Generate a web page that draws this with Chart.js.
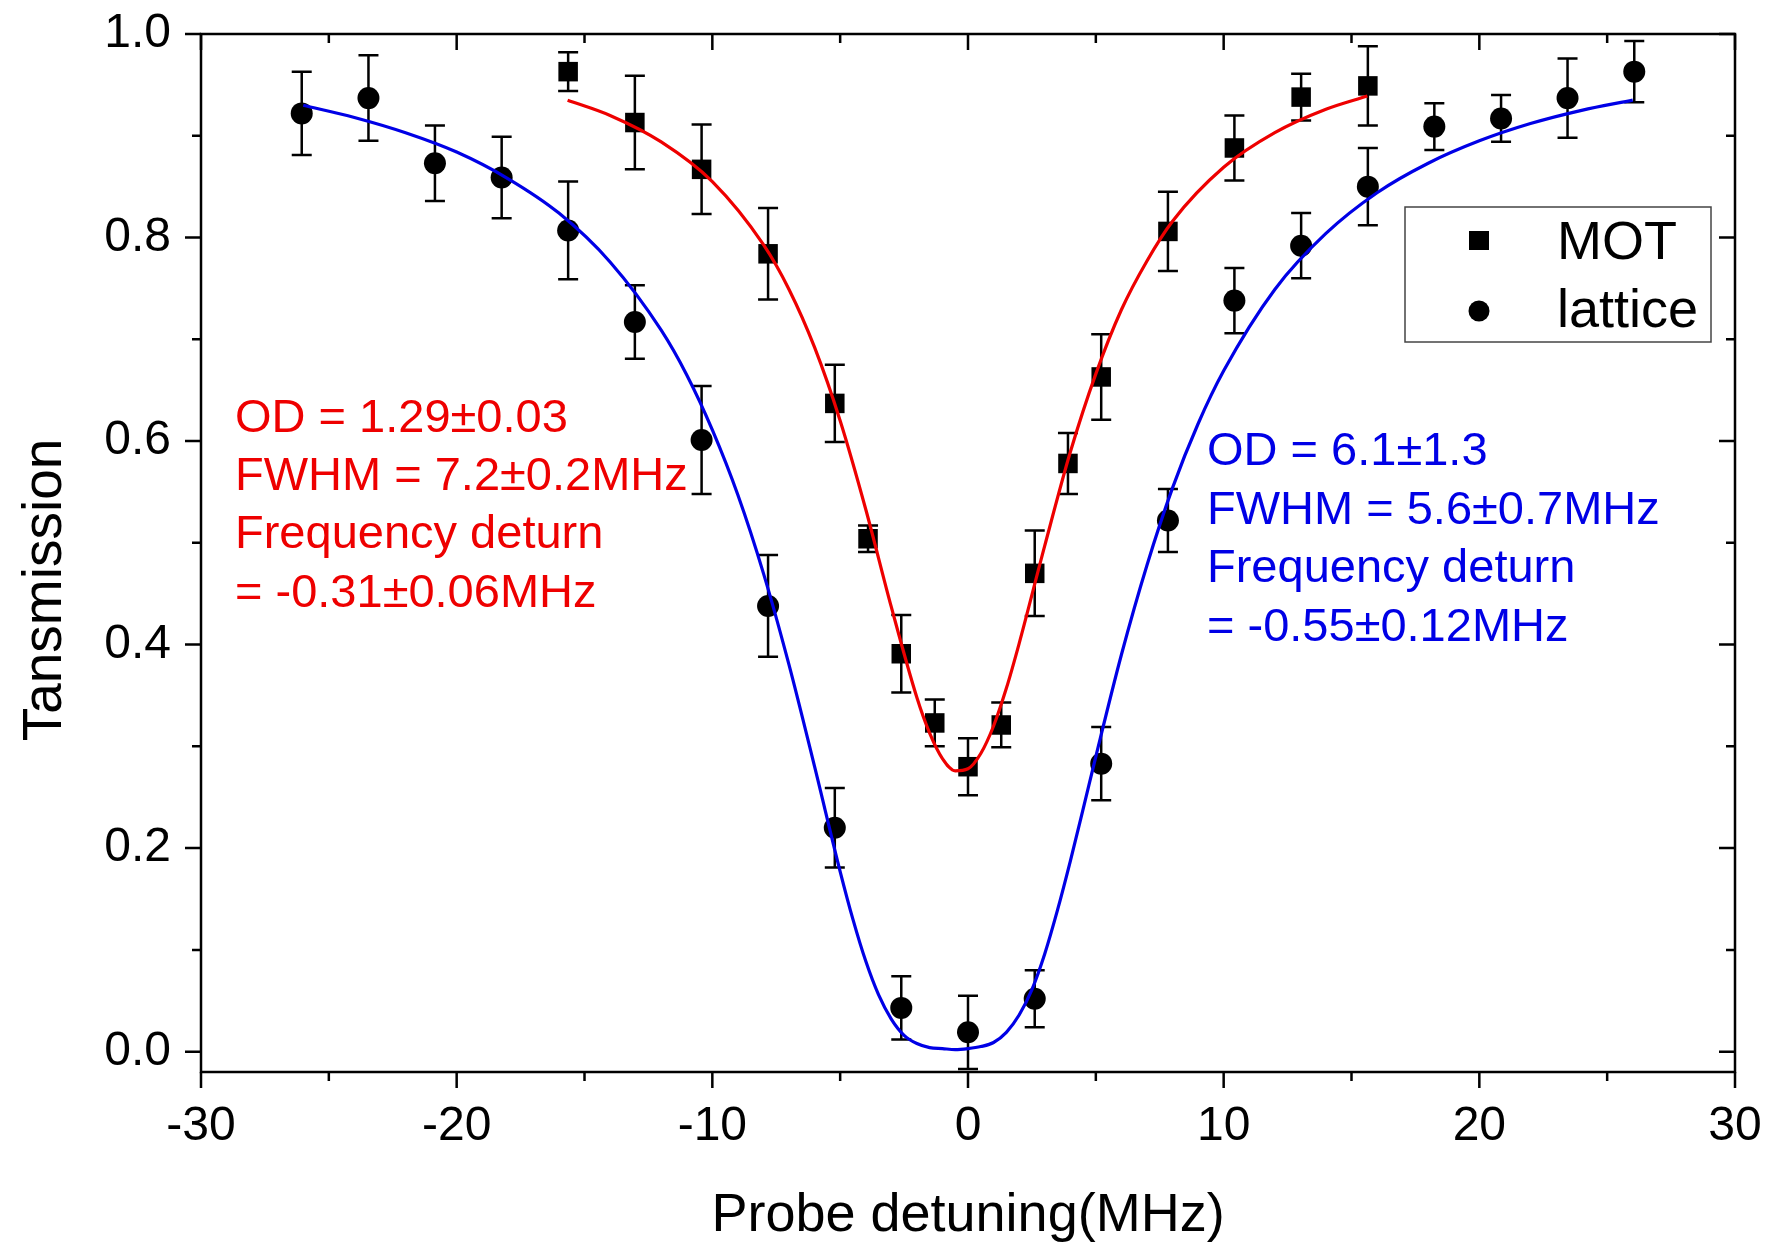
<!DOCTYPE html>
<html>
<head>
<meta charset="utf-8">
<script src="https://cdn.jsdelivr.net/npm/chart.js@4.4.1/dist/chart.umd.min.js"></script>
<style>
html,body{margin:0;padding:0;background:#fff;}
#wrap{width:1773px;height:1247px;position:relative;}
</style>
</head>
<body>
<div id="wrap"><canvas id="c" width="1773" height="1247"></canvas></div>
<script>
// ---- tick values ----
const xTickValues = [-30, -20, -10, 0, 10, 20, 30];
const xMinorTicks = [-25, -15, -5, 5, 15, 25];
const yTickValues = [0, 0.2, 0.4, 0.6, 0.8, 1.0];
const yMinorTicks = [0.1, 0.3, 0.5, 0.7, 0.9];

// ---- MOT data (squares) ----
const motX   = [-15.64, -13.03, -10.42, -7.82, -5.21, -3.91, -2.61, -1.30, 0, 1.30, 2.61, 3.91, 5.21, 7.82, 10.42, 13.03, 15.64];
const motT   = [0.963, 0.913, 0.867, 0.784, 0.637, 0.504, 0.391, 0.323, 0.280, 0.321, 0.470, 0.578, 0.663, 0.806, 0.888, 0.938, 0.949];
const motErr = [0.019, 0.046, 0.044, 0.045, 0.038, 0.013, 0.038, 0.023, 0.028, 0.022, 0.042, 0.030, 0.042, 0.039, 0.032, 0.023, 0.039];

// ---- lattice data (circles) ----
const latticeX   = [-26.06, -23.45, -20.85, -18.24, -15.64, -13.03, -10.42, -7.82, -5.21, -2.61, 0, 2.61, 5.21, 7.82, 10.42, 13.03, 15.64, 18.24, 20.85, 23.45, 26.06];
const latticeT   = [0.922, 0.937, 0.873, 0.859, 0.807, 0.717, 0.601, 0.438, 0.220, 0.043, 0.019, 0.052, 0.283, 0.522, 0.738, 0.792, 0.850, 0.909, 0.917, 0.937, 0.963];
const latticeErr = [0.041, 0.042, 0.037, 0.040, 0.048, 0.036, 0.053, 0.050, 0.039, 0.031, 0.036, 0.028, 0.036, 0.031, 0.032, 0.032, 0.038, 0.023, 0.023, 0.039, 0.030];

// ---- fit curves ----
const motFitX = [-15.66, -14, -12, -10, -8, -7, -6, -5, -4, -3, -2, -1.5, -1, -0.5, 0, 0.5, 1, 1.5, 2, 3, 4, 5, 6, 7, 8, 10, 12, 14, 15.62];
const motFitT = [0.935, 0.920, 0.894, 0.855, 0.793, 0.749, 0.692, 0.620, 0.533, 0.437, 0.348, 0.313, 0.288, 0.276, 0.278, 0.293, 0.320, 0.357, 0.401, 0.497, 0.589, 0.666, 0.729, 0.777, 0.816, 0.869, 0.903, 0.926, 0.939];

const latFitX = [-26, -24, -22, -20, -18, -16, -14, -12, -11, -10, -9, -8, -7, -6, -5, -4.5, -4, -3.5, -3, -2.5, -2, -1.5, -1, -0.5, 0, 0.5, 1, 1.5, 2, 2.5, 3, 3.5, 4, 4.5, 5, 6, 7, 8, 9, 10, 12, 14, 16, 18, 20, 22, 24, 26];
const latFitT = [0.930, 0.918, 0.903, 0.884, 0.858, 0.824, 0.776, 0.709, 0.665, 0.611, 0.547, 0.470, 0.380, 0.280, 0.177, 0.130, 0.089, 0.056, 0.032, 0.016, 0.008, 0.004, 0.003, 0.002, 0.003, 0.005, 0.009, 0.019, 0.036, 0.061, 0.096, 0.139, 0.187, 0.238, 0.290, 0.390, 0.478, 0.554, 0.617, 0.669, 0.749, 0.804, 0.844, 0.873, 0.895, 0.912, 0.925, 0.935];

const toPts = (xs, ys) => xs.map((x, i) => ({x: x, y: ys[i]}));

const FONT = "'Liberation Sans', Arial, sans-serif";
const RED = '#ee0000';
const BLUE = '#0000e6';

const errorBars = {
  id: 'errorBars',
  beforeDatasetsDraw(chart) {
    const {ctx, scales: {x, y}} = chart;
    ctx.save();
    ctx.strokeStyle = '#000';
    ctx.lineWidth = 2.5;
    const cap = 10;
    const draw = (xs, ys, es) => {
      xs.forEach((xv, i) => {
        const px = x.getPixelForValue(xv);
        const top = y.getPixelForValue(ys[i] + es[i]);
        const bot = y.getPixelForValue(ys[i] - es[i]);
        ctx.beginPath();
        ctx.moveTo(px, top); ctx.lineTo(px, bot);
        ctx.moveTo(px - cap, top); ctx.lineTo(px + cap, top);
        ctx.moveTo(px - cap, bot); ctx.lineTo(px + cap, bot);
        ctx.stroke();
      });
    };
    draw(motX, motT, motErr);
    draw(latticeX, latticeT, latticeErr);
    ctx.restore();
  }
};

const frameAndText = {
  id: 'frameAndText',
  afterDraw(chart) {
    const {ctx, chartArea: a, scales: {x, y}} = chart;
    ctx.save();
    // frame
    ctx.strokeStyle = '#000';
    ctx.lineWidth = 2.5;
    ctx.strokeRect(a.left, a.top, a.right - a.left, a.bottom - a.top);
    // ticks
    const MAJ = 16, MIN = 9;
    ctx.beginPath();
    xTickValues.forEach(v => {
      const p = x.getPixelForValue(v);
      ctx.moveTo(p, a.bottom); ctx.lineTo(p, a.bottom + MAJ);
      ctx.moveTo(p, a.top); ctx.lineTo(p, a.top + MAJ);
    });
    xMinorTicks.forEach(v => {
      const p = x.getPixelForValue(v);
      ctx.moveTo(p, a.bottom); ctx.lineTo(p, a.bottom + MIN);
      ctx.moveTo(p, a.top); ctx.lineTo(p, a.top + MIN);
    });
    yTickValues.forEach(v => {
      const p = y.getPixelForValue(v);
      ctx.moveTo(a.left, p); ctx.lineTo(a.left - MAJ, p);
      ctx.moveTo(a.right, p); ctx.lineTo(a.right - MAJ, p);
    });
    yMinorTicks.forEach(v => {
      const p = y.getPixelForValue(v);
      ctx.moveTo(a.left, p); ctx.lineTo(a.left - MIN, p);
      ctx.moveTo(a.right, p); ctx.lineTo(a.right - MIN, p);
    });
    ctx.stroke();

    // y axis title
    ctx.save();
    ctx.translate(46, 590);
    ctx.rotate(-Math.PI / 2);
    ctx.font = '55px ' + FONT;
    ctx.fillStyle = '#000';
    ctx.textAlign = 'center';
    ctx.textBaseline = 'middle';
    ctx.fillText('Tansmission', 0, 0);
    ctx.restore();

    // legend
    ctx.lineWidth = 1.5;
    ctx.strokeStyle = '#444';
    ctx.strokeRect(1405, 207, 306, 135);
    ctx.fillStyle = '#000';
    ctx.fillRect(1469, 231, 20, 19);
    ctx.beginPath();
    ctx.arc(1479, 311, 10.5, 0, Math.PI * 2);
    ctx.fill();
    ctx.font = '54px ' + FONT;
    ctx.textAlign = 'left';
    ctx.textBaseline = 'alphabetic';
    ctx.fillText('MOT', 1557, 259);
    ctx.fillText('lattice', 1557, 327);

    // annotations
    ctx.font = '47px ' + FONT;
    ctx.fillStyle = RED;
    const redLines = ['OD = 1.29\u00B10.03', 'FWHM = 7.2\u00B10.2MHz', 'Frequency deturn', '= -0.31\u00B10.06MHz'];
    const redBase = [432, 490, 548, 607];
    redLines.forEach((t, i) => ctx.fillText(t, 235, redBase[i]));
    ctx.fillStyle = BLUE;
    const blueLines = ['OD = 6.1\u00B11.3', 'FWHM = 5.6\u00B10.7MHz', 'Frequency deturn', '= -0.55\u00B10.12MHz'];
    const blueBase = [465, 524, 582, 641];
    blueLines.forEach((t, i) => ctx.fillText(t, 1207, blueBase[i]));
    ctx.restore();
  }
};

new Chart(document.getElementById('c'), {
  type: 'scatter',
  data: {
    datasets: [
      {
        label: 'MOT fit', data: toPts(motFitX, motFitT), showLine: true,
        borderColor: RED, borderWidth: 3.2, pointRadius: 0, cubicInterpolationMode: 'monotone', order: 0
      },
      {
        label: 'lattice fit', data: toPts(latFitX, latFitT), showLine: true,
        borderColor: BLUE, borderWidth: 3.2, pointRadius: 0, cubicInterpolationMode: 'monotone', order: 0
      },
      {
        label: 'MOT', data: toPts(motX, motT), pointStyle: 'rect', pointRadius: 13.8,
        backgroundColor: '#000', borderColor: '#000', borderWidth: 0, order: 1
      },
      {
        label: 'lattice', data: toPts(latticeX, latticeT), pointStyle: 'circle', pointRadius: 11,
        backgroundColor: '#000', borderColor: '#000', borderWidth: 0, order: 1
      }
    ]
  },
  options: {
    responsive: false,
    animation: false,
    events: [],
    layout: {padding: {top: 34, right: 38, left: 0, bottom: 0}},
    plugins: {legend: {display: false}, tooltip: {enabled: false}},
    scales: {
      x: {
        type: 'linear', min: -30, max: 30,
        afterFit: s => { s.height = 175; },
        afterBuildTicks: s => { s.ticks = xTickValues.map(v => ({value: v})); },
        grid: {display: true, drawOnChartArea: false, drawTicks: true, tickLength: 26, tickColor: 'rgba(0,0,0,0)'},
        border: {display: false},
        ticks: {autoSkip: false, maxRotation: 0, padding: 0, color: '#000', font: {family: FONT, size: 48},
                callback: v => String(v)},
        title: {display: true, text: 'Probe detuning(MHz)', color: '#000',
                font: {family: FONT, size: 54, lineHeight: 1.0}, padding: {top: 0, bottom: 4}}
      },
      y: {
        type: 'linear', min: -0.02, max: 1.0,
        afterFit: s => { s.width = 201; },
        afterBuildTicks: s => { s.ticks = yTickValues.map(v => ({value: v})); },
        grid: {display: true, drawOnChartArea: false, drawTicks: true, tickLength: 30, tickColor: 'rgba(0,0,0,0)'},
        border: {display: false},
        ticks: {autoSkip: false, padding: 0, color: '#000', font: {family: FONT, size: 48},
                callback: v => Number(v).toFixed(1)},
        title: {display: false}
      }
    }
  },
  plugins: [errorBars, frameAndText]
});
</script>
</body>
</html>
